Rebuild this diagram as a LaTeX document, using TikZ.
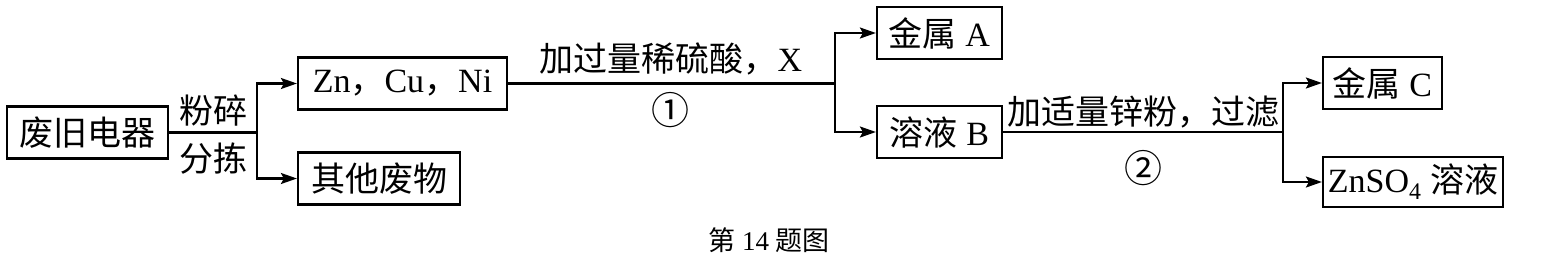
\documentclass[tikz,border=0pt]{standalone}
\usepackage{fontspec}
\setmainfont{Liberation Serif}
\newfontfamily\cjk{Noto Sans CJK SC}
\usetikzlibrary{arrows.meta}
\begin{document}
\begin{tikzpicture}[x=1pt,y=-1pt,
  line width=2.2pt,
  txt/.style={font=\fontsize{34}{40}\selectfont, inner sep=0pt},
  boxnode/.style={draw, txt, minimum height=52pt, anchor=center},
  arr/.style={-{Stealth[length=16pt,width=11pt,inset=3pt]}},
  lbl/.style={txt},
  numlbl/.style={font=\fontsize{38}{40}\selectfont, inner sep=0pt}
]
\useasboundingbox (0,0) rectangle (1553,260);
% boxes
\node[boxnode, minimum width=161pt] (n1) at (87.5,132.5) {{\cjk 废旧电器}};
\node[boxnode, minimum width=209pt] (n2) at (402.5,83.5) {Zn{\cjk ，}Cu{\cjk ，}Ni};
\node[boxnode, minimum width=162pt] (n3) at (379,178.5) {{\cjk 其他废物}};
\node[boxnode, minimum width=125pt] (n4) at (939.5,33) {{\cjk 金属} A};
\node[boxnode, minimum width=125pt] (n5) at (939.5,132) {{\cjk 溶液} B};
\node[boxnode, minimum width=119pt] (n6) at (1382.5,83) {{\cjk 金属} C};
\node[boxnode, minimum width=180pt, minimum height=50pt] (n7) at (1413,182) {ZnSO\textsubscript{4} {\cjk 溶液}};
% junctions
\coordinate (j1) at (257,132.5);
\coordinate (j2) at (835,83.5);
\coordinate (j3) at (1283,132);
% connectors
\draw (n1.east) -- (j1);
\draw[arr] (j1) |- (n2.west);
\draw[arr] (j1) |- (n3.west);
\draw (n2.east) -- (j2);
\draw[arr] (j2) |- (n4.west);
\draw[arr] (j2) |- (n5.west);
\draw (n5.east) -- (j3);
\draw[arr] (j3) |- (n6.west);
\draw[arr] (j3) |- (n7.west);
% labels
\node[lbl] (l1) at (213,111) {{\cjk 粉碎}};
\node[lbl] (l2) at (213,159) {{\cjk 分拣}};
\node[lbl] (l3) at (671,59) {{\cjk 加过量稀硫酸，}X};
\node[numlbl] (l4) at (670,110) {{\cjk ①}};
\node[lbl] (l5) at (1143,112) {{\cjk 加适量锌粉，过滤}};
\node[numlbl] (l6) at (1143,168) {{\cjk ②}};
\node[font=\fontsize{27}{30}\selectfont, inner sep=0pt] (cap) at (769,240) {{\cjk 第} 14 {\cjk 题图}};
\end{tikzpicture}
\end{document}
